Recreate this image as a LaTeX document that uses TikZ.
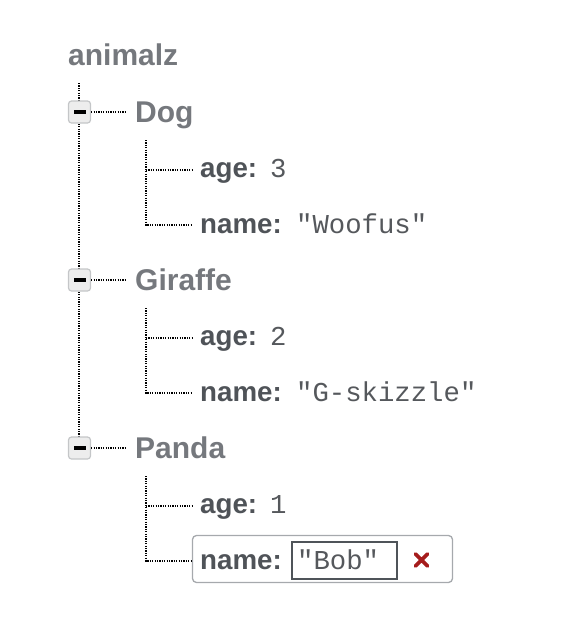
\documentclass[tikz,border=0pt]{standalone}
\usepackage{fontspec}
\setmainfont{Liberation Sans}
\newfontfamily\monof{Liberation Mono}
\definecolor{parentc}{HTML}{75787D}
\definecolor{keyc}{HTML}{4F5358}
\definecolor{valc}{HTML}{55585C}
\definecolor{boxfill}{HTML}{EDEDED}
\definecolor{boxline}{HTML}{C4C6C8}
\definecolor{editline}{HTML}{A6A9AD}
\definecolor{inputline}{HTML}{4F5459}
\definecolor{xred}{HTML}{A51C1C}
\tikzset{
  dotline/.style={line width=1.5pt, dash pattern=on 1.2pt off 1.2pt, black},
  parentlbl/.style={anchor=base west, inner sep=0pt, text=parentc, font=\fontsize{30}{32}\selectfont\bfseries},
  keylbl/.style={anchor=base west, inner sep=0pt, text=keyc, font=\fontsize{27.7}{30}\selectfont\bfseries},
  vallbl/.style={anchor=base west, inner sep=0pt, text=valc, font=\fontsize{27.3}{30}\selectfont\monof},
  togglebox/.style={draw=boxline, fill=boxfill, line width=1.2pt, rounded corners=3pt, minimum width=22pt, minimum height=22pt, inner sep=0pt},
}
\begin{document}
\begin{tikzpicture}[x=1pt,y=-1pt]
\useasboundingbox (0,0) rectangle (566,622);
% root
\node[parentlbl] (root) at (68,65) {animalz};
\coordinate (trunktop) at (79,83);
% toggle boxes positions
\coordinate (t1) at (79.5,112);
\coordinate (t2) at (79.5,280);
\coordinate (t3) at (79.5,448);
% trunk
\draw[dotline] (trunktop) -- (79,438);
% parents
\node[parentlbl] (dog) at (135,122.5) {Dog};
\node[parentlbl] (giraffe) at (135,290.5) {Giraffe};
\node[parentlbl] (panda) at (135,458.5) {Panda};
% children keys
\node[keylbl] (dage) at (200,177) {age:};
\node[vallbl] (dagev) at (270,177) {3};
\node[keylbl] (dname) at (200,233) {name:};
\node[vallbl] (dnamev) at (296,233) {"Woofus"};
\node[keylbl] (gage) at (200,345) {age:};
\node[vallbl] (gagev) at (270,345) {2};
\node[keylbl] (gname) at (200,401) {name:};
\node[vallbl] (gnamev) at (296,401) {"G-skizzle"};
\node[keylbl] (page) at (200,513) {age:};
\node[vallbl] (pagev) at (270,513) {1};
% edit box for panda name
\draw[editline, line width=1.3pt, rounded corners=4pt] (192.5,535.5) rectangle (452.5,582.5);
\node[keylbl] (pname) at (200,569) {name:};
\node[draw=inputline, line width=2pt, minimum width=105pt, minimum height=37pt, inner sep=0pt] (pinput) at (344,560) {};
\node[vallbl] (pnamev) at (297,569) {"Bob"};
\coordinate (del) at (421.5,560);
\draw[xred, line width=3.8pt, line cap=round] ([shift={(-6,-6)}]del) -- ([shift={(6,6)}]del) ([shift={(-6,6)}]del) -- ([shift={(6,-6)}]del);
% toggle boxes
\foreach \t/\n in {t1/b1,t2/b2,t3/b3}{
  \node[togglebox] (\n) at (\t) {};
  \fill[black] ([xshift=-6pt,yshift=-2pt]\t) rectangle ([xshift=6pt,yshift=2pt]\t);
}
% parent connectors
\draw[dotline] (b1.east) -- (126,112);
\draw[dotline] (b2.east) -- (126,280);
\draw[dotline] (b3.east) -- (126,448);
% child connectors
\foreach \y in {0,168,336}{
  \draw[dotline] (146,140+\y) -- (146,225+\y) -- (192,225+\y);
  \draw[dotline] (146,170+\y) -- (192,170+\y);
}
\end{tikzpicture}
\end{document}
